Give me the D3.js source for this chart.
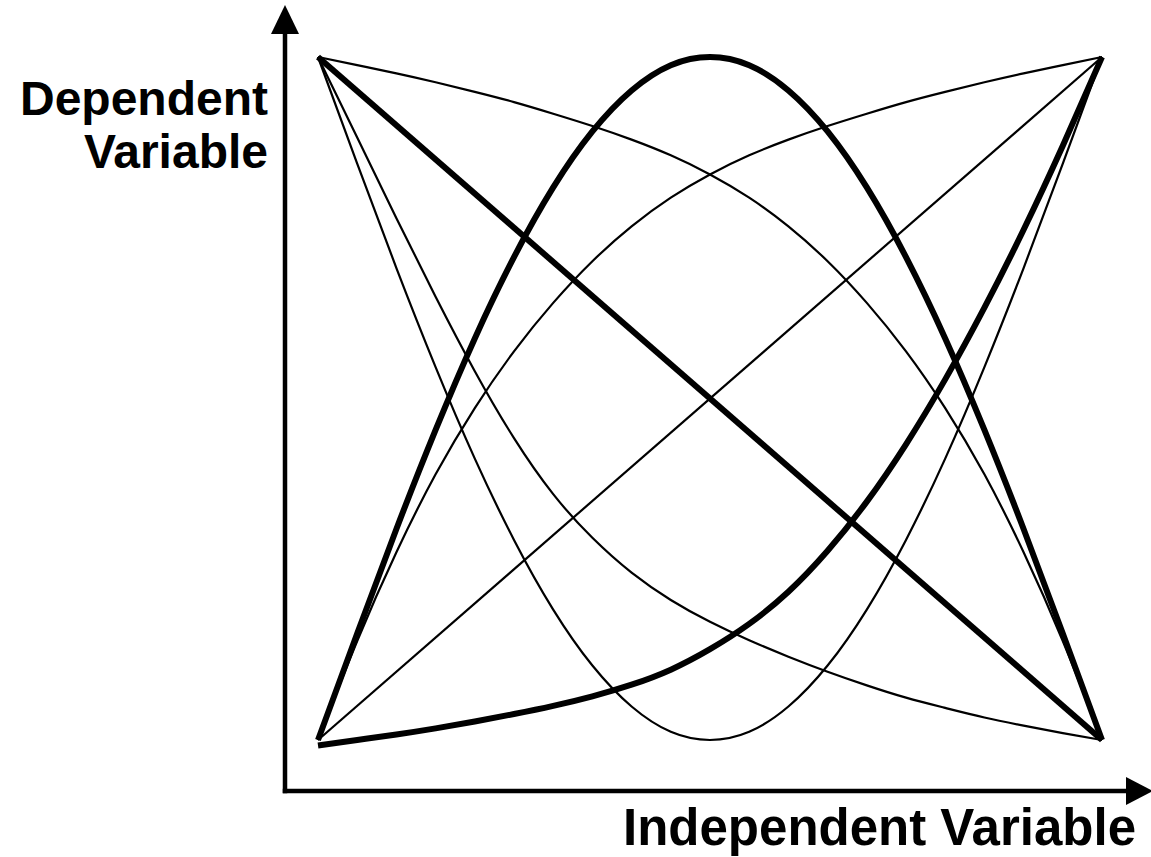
<!DOCTYPE html>
<html>
<head>
<meta charset="utf-8">
<script src="https://cdn.jsdelivr.net/npm/d3@7"></script>
<style>
  body { margin: 0; background: #fff; }
  text { font-family: "Liberation Sans", Arial, sans-serif; font-weight: bold; }
</style>
</head>
<body>
<div id="chart"></div>
<script>
// sample positions along the independent variable (0..1)
var xs = [0, 0.05, 0.1, 0.15, 0.2, 0.25, 0.3, 0.35, 0.4, 0.45, 0.5,
          0.55, 0.6, 0.65, 0.7, 0.75, 0.8, 0.85, 0.9, 0.95, 1];

// straight lines, two ends only
var lineXs = [0, 1];
var risingLine = [0, 1];
var fallingLine = [1, 0];

// curves, one value per xs entry
var hump = [0, 0.156, 0.309, 0.454, 0.588, 0.707, 0.809, 0.891, 0.951, 0.988, 1.0,
            0.988, 0.951, 0.891, 0.809, 0.707, 0.588, 0.454, 0.309, 0.156, 0];
var valley = [1, 0.844, 0.691, 0.546, 0.412, 0.293, 0.191, 0.109, 0.049, 0.012, 0,
              0.012, 0.049, 0.109, 0.191, 0.293, 0.412, 0.546, 0.691, 0.844, 1];
var convexRise = [-0.008, 0.000, 0.008, 0.017, 0.027, 0.038, 0.050, 0.064, 0.081, 0.103, 0.133,
                  0.170, 0.217, 0.277, 0.349, 0.433, 0.528, 0.633, 0.747, 0.870, 1.0];
var convexFall = [1.0, 0.882, 0.764, 0.649, 0.540, 0.442, 0.360, 0.296, 0.245, 0.205, 0.173,
                  0.146, 0.122, 0.100, 0.080, 0.062, 0.047, 0.033, 0.021, 0.010, 0];
var concaveRise = [0, 0.145, 0.275, 0.389, 0.486, 0.569, 0.640, 0.701, 0.752, 0.794, 0.828,
                   0.856, 0.879, 0.899, 0.917, 0.934, 0.949, 0.963, 0.976, 0.988, 1.0];
var concaveFall = [1.0, 0.988, 0.976, 0.963, 0.949, 0.934, 0.917, 0.899, 0.879, 0.856, 0.828,
                   0.794, 0.752, 0.701, 0.640, 0.569, 0.486, 0.389, 0.275, 0.145, 0];

var width = 1151, height = 857;

var svg = d3.select("#chart").append("svg")
    .attr("width", width)
    .attr("height", height);

var x = d3.scaleLinear().domain([0, 1]).range([318, 1102]);
var y = d3.scaleLinear().domain([0, 1]).range([740, 57]);

var line = d3.line()
    .x(d => x(d[0]))
    .y(d => y(d[1]))
    .curve(d3.curveNatural);

var thin = 2.2, thick = 6;

var series = [
  {xs: xs, ys: valley, w: thin},
  {xs: xs, ys: convexFall, w: thin},
  {xs: xs, ys: concaveRise, w: thin},
  {xs: xs, ys: concaveFall, w: thin},
  {xs: lineXs, ys: risingLine, w: thin},
  {xs: lineXs, ys: fallingLine, w: thick},
  {xs: xs, ys: hump, w: thick},
  {xs: xs, ys: convexRise, w: thick}
];

svg.selectAll("path.curve")
  .data(series)
  .enter().append("path")
    .attr("class", "curve")
    .attr("d", s => line(s.xs.map((v, i) => [v, s.ys[i]])))
    .attr("fill", "none")
    .attr("stroke", "black")
    .attr("stroke-width", s => s.w);

// axes with arrow heads
var ax = 285, ay = 791;
svg.append("line")
    .attr("x1", ax).attr("y1", 30)
    .attr("x2", ax).attr("y2", ay + 2.25)
    .attr("stroke", "black").attr("stroke-width", 4.5);
svg.append("line")
    .attr("x1", ax - 2.25).attr("y1", ay)
    .attr("x2", 1130).attr("y2", ay)
    .attr("stroke", "black").attr("stroke-width", 4.5);
svg.append("path")
    .attr("d", `M${ax},5 L${ax - 14},34 L${ax + 14},34 Z`)
    .attr("fill", "black");
svg.append("path")
    .attr("d", `M1153,${ay} L1126,${ay - 14} L1126,${ay + 14} Z`)
    .attr("fill", "black");

// labels
svg.append("text")
    .attr("x", 268).attr("y", 115)
    .attr("text-anchor", "end")
    .attr("font-size", 48)
    .text("Dependent");
svg.append("text")
    .attr("x", 268).attr("y", 168)
    .attr("text-anchor", "end")
    .attr("font-size", 48)
    .text("Variable");
svg.append("text")
    .attr("x", 1136).attr("y", 845)
    .attr("text-anchor", "end")
    .attr("font-size", 51)
    .text("Independent Variable");
</script>
</body>
</html>
